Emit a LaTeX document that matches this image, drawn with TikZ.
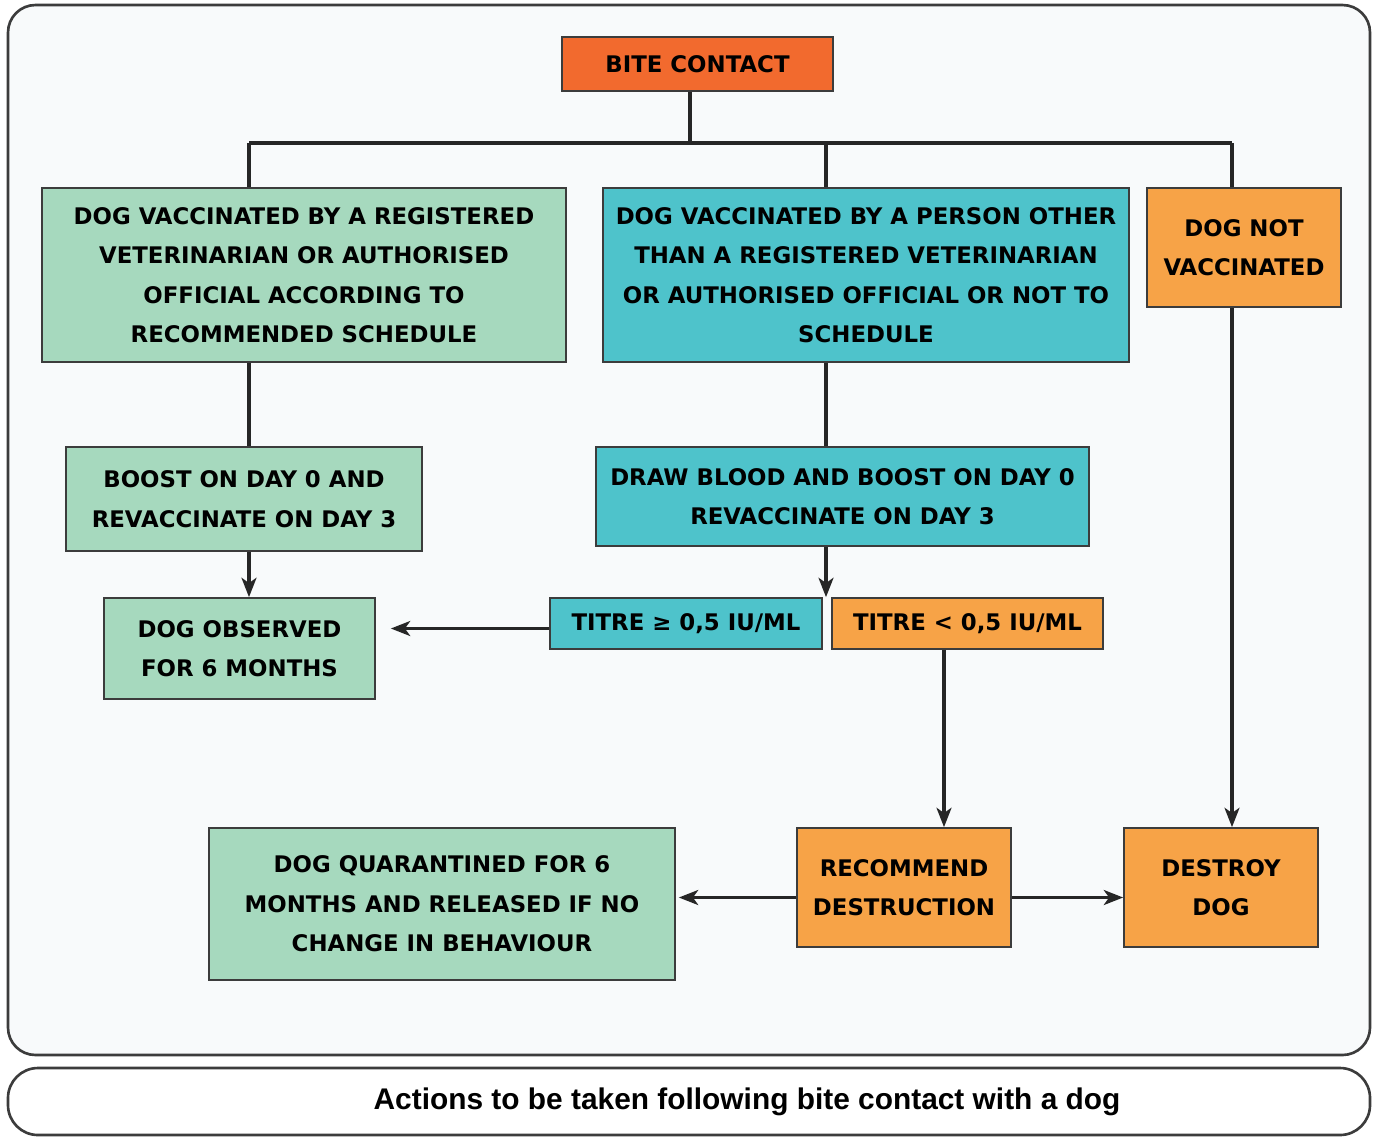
\documentclass[tikz,border=0pt]{standalone}
\usepackage{fontspec}
\setmainfont{DejaVu Sans}
\newfontfamily\captionfont{Liberation Sans}
\usetikzlibrary{positioning, arrows.meta, calc}

\definecolor{biteRed}{HTML}{F26A2E}
\definecolor{vetGreen}{HTML}{A6D9BE}
\definecolor{otherTeal}{HTML}{4EC3CB}
\definecolor{noOrange}{HTML}{F7A347}
\definecolor{frameGray}{HTML}{3C3C3C}
\definecolor{panelWhite}{HTML}{F8FAFB}

\begin{document}
\begin{tikzpicture}[
    x=0.02cm, y=-0.02cm,
    >={Stealth[length=11pt, width=8.5pt, inset=3pt]},
    box/.style={draw=frameGray, line width=1pt, rectangle, align=center, inner sep=0pt,
        font=\bfseries\fontsize{13}{22.5}\selectfont},
    green/.style={box, fill=vetGreen},
    teal/.style={box, fill=otherTeal},
    orange/.style={box, fill=noOrange},
    line/.style={draw=black!85, line width=1.9pt},
    arrow/.style={line, ->}
]
\useasboundingbox (0,0) rectangle (1378,1137);
% frames
\draw[frameGray, line width=1.5pt, fill=panelWhite, rounded corners=0.55cm] (8,5) rectangle (1370,1055);
\draw[frameGray, line width=1.5pt, fill=white, rounded corners=0.6cm] (8,1068) rectangle (1370,1135);
\node (caption) at (747,1102) {\captionfont\bfseries\fontsize{17}{20}\selectfont Actions to be taken following bite contact with a dog};

% boxes
\node[box, fill=biteRed, minimum width=5.42cm, minimum height=1.08cm] (bite) at (697.5, 64) {BITE CONTACT};
\node[green, minimum width=10.48cm, minimum height=3.48cm] (vacVet) at (304, 275) {DOG VACCINATED BY A REGISTERED\\VETERINARIAN OR AUTHORISED\\OFFICIAL ACCORDING TO\\RECOMMENDED SCHEDULE};
\node[teal, minimum width=10.52cm, minimum height=3.48cm] (vacOther) at (866, 275) {DOG VACCINATED BY A PERSON OTHER\\THAN A REGISTERED VETERINARIAN\\OR AUTHORISED OFFICIAL OR NOT TO\\SCHEDULE};
\node[orange, minimum width=3.88cm, minimum height=2.38cm] (noVac) at (1244, 247.5) {DOG NOT\\VACCINATED};
\node[green, minimum width=7.12cm, minimum height=2.08cm] (boost) at (244, 499) {BOOST ON DAY 0 AND\\REVACCINATE ON DAY 3};
\node[green, minimum width=5.42cm, minimum height=2.02cm] (observe) at (239.5, 648.5) {DOG OBSERVED\\FOR 6 MONTHS};
\node[teal, minimum width=9.86cm, minimum height=1.98cm] (blood) at (842.5, 496.5) {DRAW BLOOD AND BOOST ON DAY 0\\REVACCINATE ON DAY 3};
\node[teal, minimum width=5.44cm, minimum height=1.02cm] (titreHi) at (686, 623.5) {TITRE ≥ 0,5 IU/ML};
\node[orange, minimum width=5.42cm, minimum height=1.02cm] (titreLo) at (967.5, 623.5) {TITRE < 0,5 IU/ML};
\node[orange, minimum width=4.28cm, minimum height=2.38cm] (recommend) at (904, 887.5) {RECOMMEND\\DESTRUCTION};
\node[orange, minimum width=3.88cm, minimum height=2.38cm] (destroy) at (1221, 887.5) {DESTROY\\DOG};
\node[green, minimum width=9.32cm, minimum height=3.04cm] (quarantine) at (442, 904) {DOG QUARANTINED FOR 6\\MONTHS AND RELEASED IF NO\\CHANGE IN BEHAVIOUR};

% connectors
\coordinate (barL) at (249, 143);
\coordinate (barTop) at (690, 143);
\coordinate (barM) at (826, 143);
\coordinate (barR) at (1232, 143);
\coordinate (cut) at (944, 700);
\draw[line] (bite.south -| barTop) -- (barTop);
\draw[line] (barL) -- (barR);
\draw[line] (barL) -- (barL |- vacVet.north);
\draw[line] (barM) -- (barM |- vacOther.north);
\draw[line] (barR) -- (barR |- noVac.north);
\draw[line] (barL |- vacVet.south) -- (barL |- boost.north);
\draw[arrow] (barL |- boost.south) -- (barL |- observe.north);
\draw[line] (barM |- vacOther.south) -- (barM |- blood.north);
\draw[arrow] (barM |- blood.south) -- (barM |- titreHi.north);
\draw[arrow, shorten >=0.3cm] ([yshift=-0.1cm]titreHi.west) -- ([yshift=-0.1cm]titreHi.west -| observe.east);
\draw[arrow] (titreLo.south -| cut) -- (recommend.north -| cut);
\draw[arrow] (barR |- noVac.south) -- (barR |- destroy.north);
\draw[arrow, shorten >=0.06cm] ([yshift=-0.2cm]recommend.west) -- ([yshift=-0.2cm]recommend.west -| quarantine.east);
\draw[arrow] ([yshift=-0.2cm]recommend.east) -- ([yshift=-0.2cm]recommend.east -| destroy.west);
\end{tikzpicture}
\end{document}
